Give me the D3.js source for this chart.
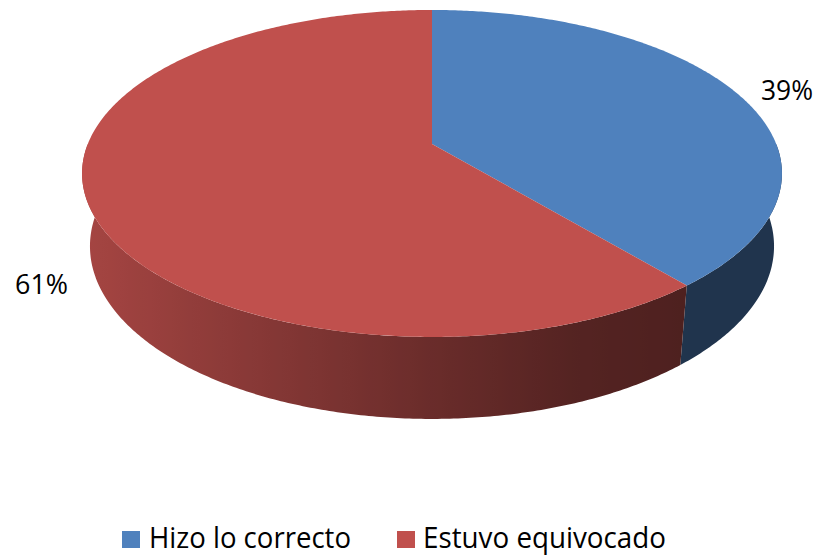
<!DOCTYPE html>
<html>
<head>
<meta charset="utf-8">
<script src="https://cdn.jsdelivr.net/npm/d3@7"></script>
<style>
  body { margin: 0; background: #fff; }
  svg { display: block; }
</style>
</head>
<body>
<svg id="chart" width="817" height="557"></svg>
<script>
const categories = ["Hizo lo correcto", "Estuvo equivocado"];
const values = [39, 61];
const pctLabels = ["39%", "61%"];
const colors = ["#4F81BD", "#C0504D"];

const svg = d3.select("#chart");
const font = "'Open Sans', 'Noto Sans', sans-serif";

// perspective camera, fitted by eye to the picture
const cx = 432, cy = 144;
const sinP = 0.4596, cosP = 0.888, dist = 4.93, focal = 1697, depth = 0.24;

// a: angle clockwise from the back of the pie (same as d3.pie), r: radius, y: height (0 = top)
function project(a, r, y) {
  const x = r * Math.sin(a), z = -r * Math.cos(a);
  const d = dist - (z * cosP + y * sinP);
  const v = y * cosP - z * sinP;
  return [cx + focal * x / d, cy - focal * v / d];
}

function arcPoints(a0, a1, y) {
  const n = Math.max(2, Math.ceil(Math.abs(a1 - a0) / 0.01));
  return d3.range(n + 1).map(i => project(a0 + (a1 - a0) * i / n, 1, y));
}

const pie = d3.pie().sort(null).value(d => d);
const arcs = pie(values);
const line = d3.line();

// side lighting across the screen
const shade = d3.scaleLinear()
  .domain([90, 215, 435, 575, 690])
  .range([0.855, 0.74, 0.55, 0.44, 0.405])
  .clamp(true);

const defs = svg.append("defs");
arcs.forEach((d, i) => {
  const g = defs.append("linearGradient")
    .attr("id", "side" + i)
    .attr("gradientUnits", "userSpaceOnUse")
    .attr("x1", 80).attr("x2", 790).attr("y1", 0).attr("y2", 0);
  d3.range(80, 791, 10).forEach(x => {
    g.append("stop")
      .attr("offset", (x - 80) / 710)
      .attr("stop-color", d3.interpolateRgb("#000", colors[i])(shade(x)));
  });
});

// side walls (front half only)
arcs.forEach((d, i) => {
  const a0 = Math.max(d.startAngle, Math.PI / 2);
  const a1 = Math.min(d.endAngle, Math.PI * 1.5);
  if (a1 <= a0) return;
  const pts = arcPoints(a0, a1, 0).concat(arcPoints(a1, a0, -depth));
  svg.append("path")
    .attr("d", line(pts) + "Z")
    .attr("fill", "url(#side" + i + ")");
});

// top faces
arcs.forEach((d, i) => {
  const pts = [project(0, 0, 0)].concat(arcPoints(d.startAngle, d.endAngle, 0));
  svg.append("path")
    .attr("d", line(pts) + "Z")
    .attr("fill", colors[i]);
});

// percentage labels
const labelPos = [
  { x: 761, y: 100, w: 52 },
  { x: 15, y: 294, w: 53 }
];
svg.selectAll("text.pct")
  .data(pctLabels)
  .join("text")
  .attr("class", "pct")
  .attr("x", (d, i) => labelPos[i].x)
  .attr("y", (d, i) => labelPos[i].y)
  .attr("textLength", (d, i) => labelPos[i].w)
  .attr("lengthAdjust", "spacingAndGlyphs")
  .attr("font-family", font)
  .attr("font-size", 27)
  .attr("fill", "#000")
  .text(d => d);

// legend
const legendPos = [
  { box: 122, text: 149, w: 202 },
  { box: 397, text: 423, w: 243 }
];
const legend = svg.append("g");
legend.selectAll("rect")
  .data(categories)
  .join("rect")
  .attr("x", (d, i) => legendPos[i].box)
  .attr("y", 531)
  .attr("width", 18)
  .attr("height", 17)
  .attr("fill", (d, i) => colors[i]);
legend.selectAll("text")
  .data(categories)
  .join("text")
  .attr("x", (d, i) => legendPos[i].text)
  .attr("y", 548)
  .attr("textLength", (d, i) => legendPos[i].w)
  .attr("lengthAdjust", "spacingAndGlyphs")
  .attr("font-family", font)
  .attr("font-size", 29)
  .attr("fill", "#000")
  .text(d => d);
</script>
</body>
</html>
